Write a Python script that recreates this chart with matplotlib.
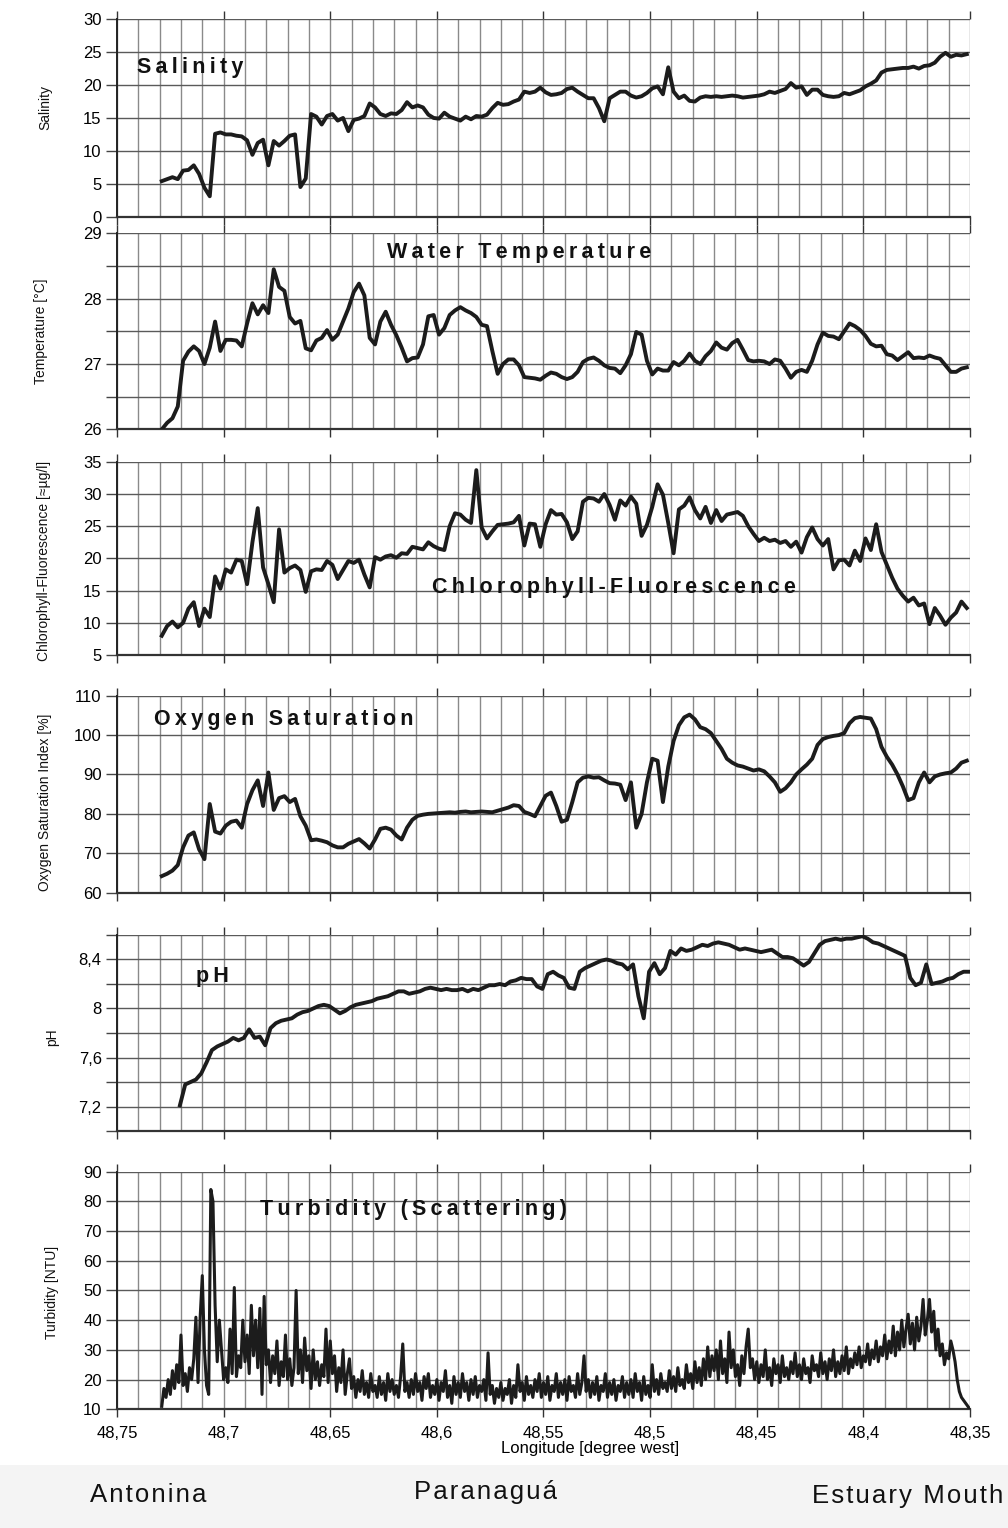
import numpy as np
import matplotlib
matplotlib.use("Agg")
import matplotlib.pyplot as plt
from matplotlib.ticker import FixedLocator, MultipleLocator, FuncFormatter
from matplotlib.patches import Rectangle

plt.rcParams["font.family"] = ["Liberation Sans", "DejaVu Sans"]

# ── transect data (longitude, degrees west) ──────────────────────────────────

STEP = 0.0025
LON_START = 48.729
PH_START = 48.7205
TURB_STEP = 0.001

salinity = [
    5.4, 5.7, 6.0, 5.7, 7.0, 7.1, 7.8, 6.5, 4.4, 3.1,
    12.6, 12.8, 12.5, 12.5, 12.3, 12.2, 11.6, 9.4, 11.2, 11.7,
    7.8, 11.5, 10.8, 11.5, 12.3, 12.5, 4.5, 5.8, 15.6, 15.2,
    14.0, 15.3, 15.6, 14.6, 15.0, 13.0, 14.7, 14.9, 15.3, 17.2,
    16.6, 15.6, 15.3, 15.7, 15.6, 16.2, 17.4, 16.6, 16.9, 16.6,
    15.5, 15.0, 14.9, 15.8, 15.2, 14.9, 14.6, 15.2, 14.8, 15.3,
    15.2, 15.5, 16.5, 17.3, 17.0, 17.1, 17.5, 17.8, 19.0, 18.8,
    19.0, 19.6, 18.9, 18.5, 18.6, 18.8, 19.4, 19.6, 19.0, 18.5,
    18.0, 18.0, 16.5, 14.5, 18.0, 18.5, 19.0, 19.0, 18.4, 18.1,
    18.3, 18.8, 19.5, 19.8, 18.6, 22.7, 19.0, 18.0, 18.4, 17.6,
    17.5, 18.1, 18.3, 18.2, 18.3, 18.2, 18.3, 18.4, 18.3, 18.1,
    18.2, 18.3, 18.4, 18.6, 19.0, 18.8, 19.1, 19.4, 20.3, 19.6,
    19.8, 18.5, 19.3, 19.3, 18.5, 18.3, 18.2, 18.3, 18.8, 18.6,
    18.9, 19.2, 19.8, 20.2, 20.7, 21.9, 22.3, 22.4, 22.5, 22.6,
    22.6, 22.8, 22.5, 22.9, 23.0, 23.4, 24.3, 24.9, 24.3, 24.6,
    24.5, 24.7,
]

temperature = [
    26.00, 26.10, 26.17, 26.35, 27.05, 27.19, 27.27, 27.20, 27.00, 27.25,
    27.65, 27.20, 27.37, 27.37, 27.36, 27.27, 27.62, 27.93, 27.76, 27.90,
    27.78, 28.45, 28.18, 28.12, 27.72, 27.62, 27.66, 27.24, 27.21, 27.36,
    27.40, 27.52, 27.37, 27.45, 27.65, 27.85, 28.10, 28.23, 28.05, 27.40,
    27.30, 27.65, 27.80, 27.60, 27.44, 27.25, 27.04, 27.09, 27.10, 27.30,
    27.73, 27.75, 27.45, 27.55, 27.75, 27.82, 27.87, 27.82, 27.78, 27.72,
    27.60, 27.58, 27.20, 26.85, 27.00, 27.07, 27.07, 26.98, 26.80, 26.79,
    26.78, 26.76, 26.82, 26.87, 26.85, 26.80, 26.77, 26.80, 26.88, 27.03,
    27.08, 27.10, 27.05, 26.98, 26.94, 26.93, 26.86, 26.98, 27.15, 27.49,
    27.45, 27.05, 26.84, 26.93, 26.90, 26.90, 27.03, 26.98, 27.05, 27.16,
    27.05, 27.00, 27.12, 27.20, 27.33, 27.25, 27.22, 27.32, 27.37, 27.22,
    27.06, 27.04, 27.05, 27.04, 27.00, 27.07, 27.05, 26.93, 26.79, 26.88,
    26.91, 26.88, 27.05, 27.30, 27.48, 27.43, 27.42, 27.38, 27.50, 27.62,
    27.58, 27.52, 27.43, 27.31, 27.27, 27.28, 27.15, 27.13, 27.06, 27.12,
    27.18, 27.09, 27.10, 27.09, 27.13, 27.10, 27.08, 26.98, 26.88, 26.88,
    26.93, 26.95,
]

chlorophyll = [
    8.0, 9.5, 10.2, 9.3, 10.0, 12.2, 13.2, 9.5, 12.2, 10.9,
    17.2, 15.3, 18.3, 17.8, 19.8, 19.6, 16.0, 22.5, 27.8, 18.6,
    16.0, 13.2, 24.5, 17.8, 18.5, 18.9, 18.2, 14.8, 18.0, 18.3,
    18.2, 19.6, 19.0, 16.8, 18.2, 19.6, 19.3, 19.8, 17.5, 15.5,
    20.2, 19.8, 20.3, 20.5, 20.1, 20.8, 20.7, 21.8, 21.6, 21.4,
    22.5, 21.9, 21.5, 21.3, 25.0, 27.0, 26.8, 26.0, 25.5, 33.7,
    24.8, 23.1, 24.2, 25.2, 25.3, 25.4, 25.6, 26.6, 22.0, 25.4,
    25.3, 21.8, 25.3, 27.5, 26.8, 26.9, 25.6, 23.0, 24.2, 28.8,
    29.4, 29.3, 28.8, 30.0, 28.3, 26.0, 29.0, 28.2, 29.6, 28.5,
    23.5, 25.2, 28.0, 31.5, 29.9, 25.5, 20.8, 27.6, 28.2, 29.5,
    27.5, 26.2, 28.0, 25.5, 27.5, 25.8, 26.8, 27.0, 27.2, 26.6,
    25.0, 23.8, 22.7, 23.2, 22.7, 22.9, 22.4, 22.7, 21.8, 22.6,
    20.9, 23.3, 24.8, 23.0, 22.0, 23.0, 18.3, 19.7, 19.8, 18.9,
    21.2, 19.6, 23.1, 21.3, 25.3, 21.0, 19.0, 17.0, 15.3, 14.2,
    13.3, 13.9, 12.7, 13.0, 9.8, 12.3, 11.1, 9.7, 10.8, 11.6,
    13.3, 12.3,
]

oxygen = [
    64.2, 64.8, 65.6, 67.0, 71.5, 74.5, 75.3, 71.0, 68.5, 82.5,
    75.5, 75.0, 77.0, 78.0, 78.3, 76.5, 82.5, 86.0, 88.5, 82.0,
    90.5, 81.0, 84.0, 84.5, 83.0, 83.8, 79.4, 77.0, 73.3, 73.5,
    73.2, 72.8, 72.0, 71.5, 71.5, 72.4, 73.0, 73.6, 72.5, 71.2,
    73.5, 76.2, 76.5, 76.0, 74.5, 73.5, 76.5, 78.5, 79.5, 79.8,
    80.0, 80.1, 80.2, 80.3, 80.4, 80.3, 80.5, 80.6, 80.4, 80.5,
    80.6, 80.5, 80.4, 80.8, 81.2, 81.6, 82.2, 82.0, 80.5, 80.0,
    79.4, 82.0, 84.6, 85.4, 82.0, 78.0, 78.5, 83.0, 88.0, 89.2,
    89.5, 89.2, 89.3, 88.5, 87.8, 87.7, 87.4, 83.5, 88.0, 76.5,
    80.0, 88.0, 94.0, 93.5, 83.0, 92.0, 98.5, 102.5, 104.5, 105.2,
    104.0, 102.0, 101.5, 100.5, 98.5, 96.5, 94.0, 93.0, 92.3, 92.0,
    91.5, 91.0, 91.3, 90.8, 89.5, 88.0, 85.6, 86.5, 88.0, 90.0,
    91.3, 92.5, 94.0, 97.5, 99.0, 99.5, 99.8, 100.0, 100.5, 103.0,
    104.3, 104.6, 104.4, 104.2, 101.5, 97.0, 94.5, 92.5, 90.0, 87.0,
    83.5, 84.0, 88.0, 90.5, 88.0, 89.5, 90.0, 90.3, 90.5, 91.5,
    93.0, 93.5,
]

ph = [
    7.21, 7.38, 7.40, 7.42, 7.47, 7.56, 7.66, 7.69, 7.71, 7.73,
    7.76, 7.74, 7.76, 7.83, 7.76, 7.77, 7.70, 7.84, 7.88, 7.90,
    7.91, 7.92, 7.95, 7.97, 7.98, 8.00, 8.02, 8.03, 8.02, 7.99,
    7.96, 7.98, 8.01, 8.03, 8.04, 8.05, 8.06, 8.08, 8.09, 8.10,
    8.12, 8.14, 8.14, 8.12, 8.13, 8.14, 8.16, 8.17, 8.16, 8.15,
    8.16, 8.15, 8.15, 8.16, 8.14, 8.16, 8.15, 8.17, 8.19, 8.19,
    8.20, 8.19, 8.22, 8.23, 8.25, 8.24, 8.24, 8.18, 8.16, 8.28,
    8.30, 8.27, 8.25, 8.17, 8.16, 8.30, 8.33, 8.35, 8.37, 8.39,
    8.40, 8.39, 8.37, 8.36, 8.32, 8.36, 8.10, 7.92, 8.30, 8.37,
    8.28, 8.33, 8.47, 8.44, 8.49, 8.47, 8.48, 8.50, 8.52, 8.51,
    8.53, 8.54, 8.53, 8.52, 8.50, 8.48, 8.49, 8.48, 8.47, 8.46,
    8.47, 8.48, 8.45, 8.42, 8.42, 8.41, 8.38, 8.35, 8.38, 8.45,
    8.52, 8.55, 8.56, 8.57, 8.56, 8.57, 8.57, 8.58, 8.59, 8.57,
    8.54, 8.53, 8.51, 8.49, 8.47, 8.45, 8.43, 8.25, 8.19, 8.21,
    8.36, 8.20, 8.21, 8.22, 8.24, 8.25, 8.28, 8.30, 8.30,
]

turbidity = [
    11, 17, 14, 20, 15, 23, 17, 25, 19, 35, 18, 22, 16, 24, 20, 27, 41, 19, 41, 55,
    30, 18, 15, 84, 80, 45, 26, 40, 30, 20, 24, 19, 37, 22, 51, 21, 28, 24, 40, 26,
    35, 22, 45, 28, 40, 24, 44, 15, 48, 25, 30, 19, 28, 22, 33, 18, 26, 21, 35, 20,
    27, 18, 24, 50, 22, 30, 19, 34, 23, 28, 17, 30, 20, 26, 18, 25, 21, 37, 19, 33,
    22, 28, 16, 24, 19, 30, 15, 22, 27, 17, 21, 14, 20, 16, 23, 15, 19, 14, 22, 16,
    18, 14, 21, 15, 19, 13, 22, 16, 20, 15, 18, 14, 21, 32, 16, 19, 14, 20, 15, 22,
    16, 19, 13, 21, 17, 22, 14, 18, 15, 20, 13, 19, 16, 23, 14, 18, 12, 21, 15, 19,
    14, 22, 16, 19, 13, 20, 15, 21, 14, 18, 16, 20, 13, 29, 15, 18, 12, 17, 14, 19,
    13, 17, 15, 20, 12, 18, 14, 25, 16, 19, 13, 21, 15, 18, 14, 20, 16, 22, 14, 19,
    15, 21, 13, 18, 16, 22, 14, 19, 15, 20, 13, 21, 16, 18, 14, 22, 15, 19, 28, 16,
    20, 14, 19, 15, 21, 13, 18, 16, 22, 14, 19, 15, 20, 13, 18, 16, 21, 14, 19, 15,
    20, 14, 22, 16, 19, 13, 21, 15, 18, 14, 25, 16, 20, 15, 22, 17, 19, 16, 23, 17,
    21, 16, 24, 18, 20, 17, 25, 19, 22, 17, 26, 19, 24, 18, 27, 20, 31, 21, 28, 23,
    30, 20, 33, 22, 27, 19, 36, 24, 30, 21, 25, 18, 28, 22, 31, 37, 24, 27, 20, 26,
    19, 25, 21, 30, 20, 24, 18, 27, 22, 25, 19, 28, 21, 24, 20, 26, 22, 29, 21, 25,
    20, 27, 22, 24, 19, 28, 23, 25, 21, 29, 22, 26, 20, 27, 23, 30, 21, 26, 22, 28,
    23, 31, 22, 27, 24, 29, 25, 31, 24, 28, 26, 32, 25, 30, 27, 33, 26, 31, 28, 35,
    27, 33, 29, 38, 28, 36, 30, 40, 31, 37, 42, 32, 39, 30, 41, 33, 38, 47, 35, 40,
    47, 36, 43, 30, 37, 28, 32, 25, 29, 27, 33, 30, 26, 20, 16, 14, 13, 12, 11, 10,
]

places = ["Antonina", "Paranaguá", "Estuary Mouth"]


def lon_axis(start, step, n):
    return start - step * np.arange(n)


def spaced(s, gap="\u2009"):
    # letter-spaced captions
    return gap.join(s)


def comma(v, _pos=None):
    s = f"{v:.2f}".rstrip("0").rstrip(".")
    return s.replace(".", ",")


# ── panel definitions ────────────────────────────────────────────────────────

panels = [
    dict(y=salinity, x=lon_axis(LON_START, STEP, len(salinity)),
         ylim=(0, 30), grid=np.arange(0, 31, 5), labels=np.arange(0, 31, 5),
         rect=(0.8582, 0.1292), ylabel="Salinity", ylab_xy=(45, 108),
         title="Salinity", title_xy=(0.0856, 0.758)),
    dict(y=temperature, x=lon_axis(LON_START, STEP, len(temperature)),
         ylim=(26, 29), grid=np.arange(26, 29.01, 0.5), labels=[26, 27, 28, 29],
         rect=(0.7190, 0.1283), ylabel="Temperature [°C]", ylab_xy=(41, 331),
         title="Water Temperature", title_xy=(0.472, 0.900)),
    dict(y=chlorophyll, x=lon_axis(LON_START, STEP, len(chlorophyll)),
         ylim=(5, 35), grid=np.arange(5, 36, 5), labels=np.arange(5, 36, 5),
         rect=(0.5713, 0.1265), ylabel="Chlorophyll-Fluorescence [≈µg/l]",
         ylab_xy=(44, 561),
         title="Chlorophyll-Fluorescence", title_xy=(0.582, 0.352)),
    dict(y=oxygen, x=lon_axis(LON_START, STEP, len(oxygen)),
         ylim=(60, 110), grid=np.arange(60, 111, 10), labels=np.arange(60, 111, 10),
         rect=(0.4158, 0.1289), ylabel="Oxygen Saturation Index [%]",
         ylab_xy=(45, 802),
         title="Oxygen Saturation", title_xy=(0.195, 0.877)),
    dict(y=ph, x=lon_axis(PH_START, STEP, len(ph)),
         ylim=(7.0, 8.6), grid=np.arange(7.0, 8.61, 0.2), labels=[7.2, 7.6, 8.0, 8.4],
         rect=(0.2598, 0.1283), ylabel="pH", ylab_xy=(52, 1037),
         title="pH", title_xy=(0.112, 0.786)),
    dict(y=turbidity, x=lon_axis(LON_START, TURB_STEP, len(turbidity)),
         ylim=(10, 90), grid=np.arange(10, 91, 10), labels=np.arange(10, 91, 10),
         rect=(0.0777, 0.1555), ylabel="Turbidity [NTU]", ylab_xy=(52, 1292),
         title="Turbidity (Scattering)", title_xy=(0.348, 0.839)),
]

W, H = 1008, 1528
fig = plt.figure(figsize=(W / 100, H / 100), dpi=100)

# pale band behind the place names
fig.patches.append(Rectangle((0, 0), 1, 1 - 1465 / H, transform=fig.transFigure,
                             facecolor="#f4f4f4", edgecolor="none", zorder=0))

LEFT, WIDTH = 117 / W, 853 / W

for i, p in enumerate(panels):
    bottom, height = p["rect"]
    ax = fig.add_axes([LEFT, bottom, WIDTH, height])
    lw = 2.2 if p["y"] is turbidity else 2.8
    ax.plot(p["x"], p["y"], color="#1c1c1c", lw=lw, solid_joinstyle="round",
            zorder=3)

    ax.set_xlim(48.75, 48.35)
    ax.set_ylim(*p["ylim"])

    ax.xaxis.set_major_locator(MultipleLocator(0.05))
    ax.xaxis.set_minor_locator(MultipleLocator(0.01))
    ax.grid(True, axis="x", which="both", color="#8a8a8a", lw=1.0)
    ax.yaxis.set_major_locator(FixedLocator(p["grid"]))
    ax.grid(True, axis="y", which="major", color="#5a5a5a", lw=1.0)

    labels = [round(v, 2) for v in p["labels"]]
    ax.yaxis.set_major_formatter(FuncFormatter(
        lambda v, pos, labels=labels: comma(v) if round(v, 2) in labels else ""))

    ax.tick_params(axis="y", which="major", length=8, width=1.0, color="#444",
                   labelsize=12, pad=3)
    ax.tick_params(axis="x", which="major", length=6, width=1.0, color="#333",
                   top=True, bottom=True, direction="out")
    ax.tick_params(axis="x", which="minor", length=0)

    for side in ("top", "right"):
        ax.spines[side].set_visible(False)
    ax.spines["left"].set_color("#222")
    ax.spines["left"].set_linewidth(1.4)
    ax.spines["bottom"].set_color("#333")
    ax.spines["bottom"].set_linewidth(1.6)

    if i == len(panels) - 1:
        ax.xaxis.set_major_formatter(FuncFormatter(comma))
        ax.tick_params(axis="x", labelsize=12, pad=6)
    else:
        ax.tick_params(axis="x", labelbottom=False)

    ax.text(*p["title_xy"], spaced(p["title"]), transform=ax.transAxes,
            ha="center", va="center", fontsize=15.5, fontweight="bold",
            color="#111", zorder=4)

    fig.text(p["ylab_xy"][0] / W, 1 - p["ylab_xy"][1] / H, p["ylabel"],
             rotation=90, ha="center", va="center", fontsize=10, color="#111")

fig.text(590 / W, 1 - 1448 / H, "Longitude [degree west]", ha="center",
         va="center", fontsize=12)

for name, (x, y) in zip(places, [(148, 1495), (486, 1492), (908, 1496)]):
    fig.text(x / W, 1 - y / H, spaced(name, "\u200a"), ha="center",
             va="center", fontsize=18.5, color="#111")

fig.savefig("out.png", dpi=100)
